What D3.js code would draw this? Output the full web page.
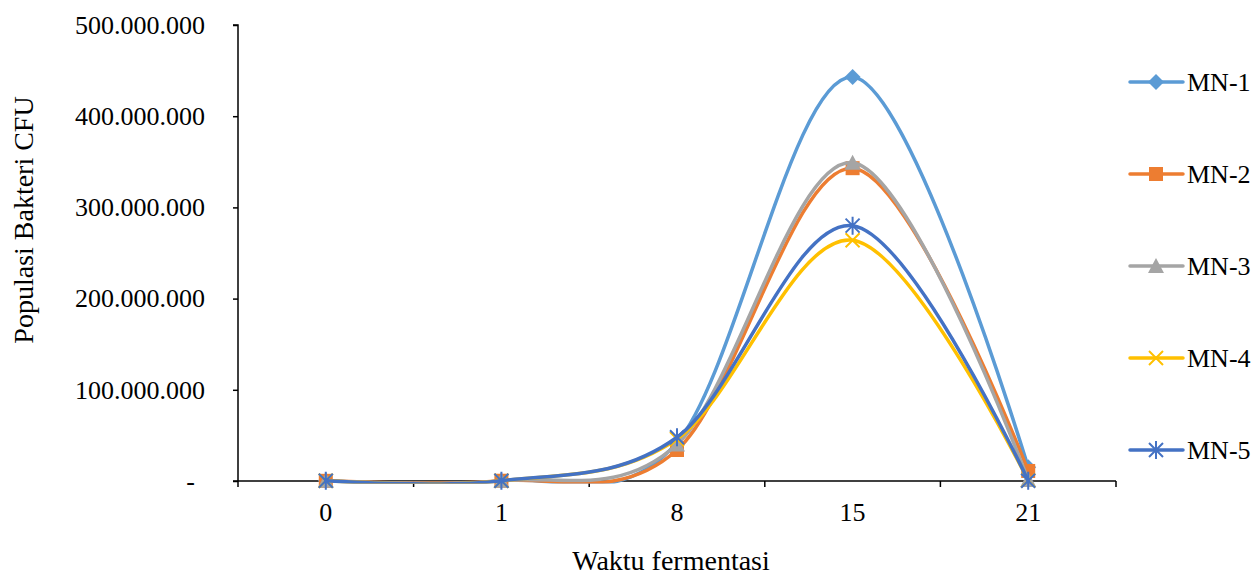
<!DOCTYPE html>
<html>
<head>
<meta charset="utf-8">
<script src="https://cdn.jsdelivr.net/npm/d3@7"></script>
<style>
  html, body { margin: 0; padding: 0; background: #fff; }
  svg { display: block; font-family: "Liberation Serif", "Times New Roman", serif; }
</style>
</head>
<body>
<svg id="chart" width="1254" height="575"></svg>
<script>
// Fermentation days (category axis)
const days = ["0", "1", "8", "15", "21"];

// Bacterial population (CFU) per sample
const mn1 = [200000, 300000, 42000000, 443000000, 15000000];
const mn2 = [200000, 300000, 34000000, 343000000, 11000000];
const mn3 = [200000, 300000, 40000000, 349000000, 1000000];
const mn4 = [200000, 300000, 46000000, 264000000, 500000];
const mn5 = [200000, 300000, 48000000, 280000000, 300000];

const seriesNames = ["MN-1", "MN-2", "MN-3", "MN-4", "MN-5"];
const seriesColors = ["#5B9BD5", "#ED7D31", "#A5A5A5", "#FFC000", "#4472C4"];
const seriesMarkers = ["diamond", "square", "triangle", "x", "star"];

const yTicks = [0, 100000000, 200000000, 300000000, 400000000, 500000000];

const series = [mn1, mn2, mn3, mn4, mn5].map((values, i) => ({
  name: seriesNames[i], color: seriesColors[i], marker: seriesMarkers[i], values
}));

const svg = d3.select("#chart");
const plotLeft = 238, plotRight = 1116, plotTop = 25, plotBottom = 481;

const x = d3.scaleBand().domain(days).range([plotLeft, plotRight]).padding(0);
const y = d3.scaleLinear().domain([0, 500000000]).range([plotBottom, plotTop]);

const fmt = v => v === 0 ? "-" : d3.format(",")(v).replace(/,/g, ".");

// Lines are clipped to the plot area (smoothing may overshoot below zero)
svg.append("defs").append("clipPath").attr("id", "plot-clip")
  .append("rect").attr("x", plotLeft).attr("y", 0)
  .attr("width", plotRight - plotLeft + 20).attr("height", plotBottom + 2.5);

// Y axis
const yAxis = svg.append("g")
  .attr("transform", `translate(${plotLeft},0)`)
  .call(d3.axisLeft(y).tickValues(yTicks).tickSize(5).tickPadding(28).tickFormat(fmt));
yAxis.select(".domain").attr("stroke", "#000").attr("stroke-width", 1.5).attr("d", `M-5,${plotTop}H0V${plotBottom}`);
yAxis.selectAll(".tick line").attr("stroke", "#000").attr("stroke-width", 1.5);
yAxis.selectAll(".tick text")
  .attr("font-size", 26).attr("fill", "#000")
  .attr("font-family", "Liberation Serif, Times New Roman, serif")
  .attr("dx", d => d === 0 ? -10 : 0);

// X axis with ticks between categories
const xAxisG = svg.append("g").attr("transform", `translate(0,${plotBottom})`);
xAxisG.append("line").attr("x1", plotLeft - 5).attr("x2", plotRight).attr("y1", 0).attr("y2", 0)
  .attr("stroke", "#000").attr("stroke-width", 1.5);
const bounds = days.map(d => x(d)).concat([plotRight]);
xAxisG.selectAll("line.tk").data(bounds).join("line").attr("class", "tk")
  .attr("x1", d => d).attr("x2", d => d).attr("y1", 0).attr("y2", 6)
  .attr("stroke", "#000").attr("stroke-width", 1.5);
xAxisG.selectAll("text").data(days).join("text")
  .attr("x", d => x(d) + x.bandwidth() / 2).attr("y", 40)
  .attr("text-anchor", "middle").attr("font-size", 26).attr("fill", "#000")
  .text(d => d);

// Axis titles
svg.append("text").attr("x", 671).attr("y", 570).attr("text-anchor", "middle")
  .attr("font-size", 28).attr("fill", "#000").text("Waktu fermentasi");
svg.append("text").attr("transform", "translate(33,220) rotate(-90)").attr("text-anchor", "middle")
  .attr("font-size", 28).attr("fill", "#000").text("Populasi Bakteri CFU");

// Marker shapes
function drawMarker(g, type, color, size) {
  const h = size / 2;
  if (type === "diamond") {
    g.append("path").attr("d", `M0,${-h-1}L${h+1},0L0,${h+1}L${-h-1},0Z`).attr("fill", color);
  } else if (type === "square") {
    g.append("rect").attr("x", -h).attr("y", -h).attr("width", size).attr("height", size).attr("fill", color);
  } else if (type === "triangle") {
    g.append("path").attr("d", `M0,${-h-1}L${h+1},${h}L${-h-1},${h}Z`).attr("fill", color);
  } else if (type === "x") {
    g.append("path").attr("d", `M${-h},${-h}L${h},${h}M${-h},${h}L${h},${-h}`)
      .attr("stroke", color).attr("stroke-width", 2);
  } else if (type === "star") {
    g.append("path").attr("d", `M${-h},${-h}L${h},${h}M${-h},${h}L${h},${-h}M0,${-h-2}V${h+2}`)
      .attr("stroke", color).attr("stroke-width", 2);
  }
}

const line = d3.line()
  .x((d, i) => x(days[i]) + x.bandwidth() / 2)
  .y(d => y(d))
  .curve(d3.curveCardinal.tension(0));

series.forEach(s => {
  const g = svg.append("g");
  g.append("path").attr("d", line(s.values)).attr("fill", "none")
    .attr("clip-path", "url(#plot-clip)")
    .attr("stroke", s.color).attr("stroke-width", 3.5).attr("stroke-linecap", "round");
  s.values.forEach((v, i) => {
    const m = g.append("g").attr("transform", `translate(${x(days[i]) + x.bandwidth() / 2},${y(v)})`);
    drawMarker(m, s.marker, s.color, 14);
  });
});

// Legend
const legend = svg.append("g");
series.forEach((s, i) => {
  const cy = 82 + i * 92;
  const g = legend.append("g").attr("transform", `translate(0,${cy})`);
  g.append("line").attr("x1", 1130).attr("x2", 1183).attr("y1", 0).attr("y2", 0)
    .attr("stroke", s.color).attr("stroke-width", 3.5).attr("stroke-linecap", "round");
  const m = g.append("g").attr("transform", "translate(1156,0)");
  drawMarker(m, s.marker, s.color, 14);
  g.append("text").attr("x", 1187).attr("y", 0).attr("dy", "0.35em")
    .attr("font-size", 26).attr("fill", "#000").text(s.name);
});
</script>
</body>
</html>
